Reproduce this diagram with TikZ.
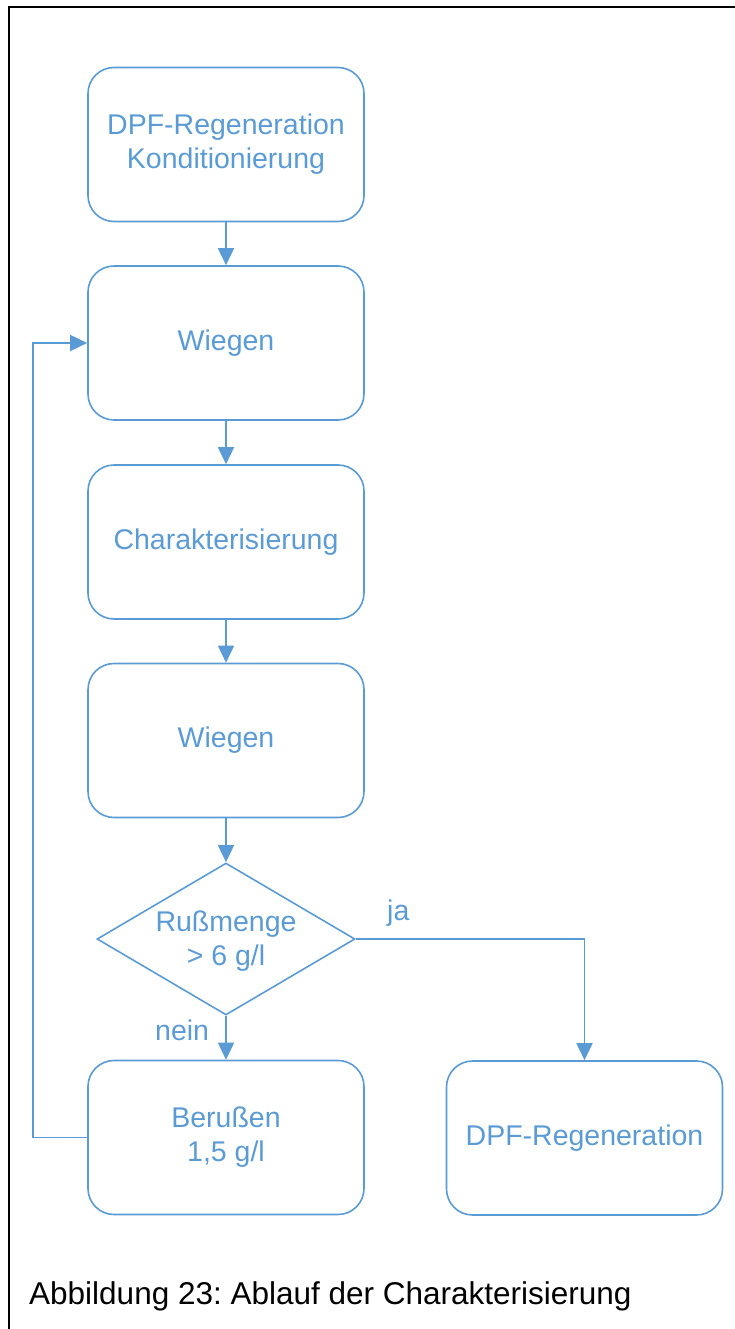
\documentclass[tikz,border=0pt]{standalone}
\usepackage{fontspec}
\setmainfont{Liberation Sans}
\usetikzlibrary{arrows.meta,shapes.geometric}
\definecolor{flowblue}{HTML}{5B9BD5}
\frenchspacing

\begin{document}
\begin{tikzpicture}[x=1pt,y=-1pt,
  stepbox/.style={draw=flowblue, line width=1.6pt, rounded corners=26pt,
    minimum width=276pt, minimum height=154pt, inner sep=0pt, align=center,
    text=flowblue, font=\fontsize{28.5}{34}\selectfont},
  decision/.style={draw=flowblue, line width=1.6pt, diamond,
    minimum width=258pt, minimum height=152pt, inner sep=0pt},
  lbl/.style={text=flowblue, font=\fontsize{28.5}{34}\selectfont,
    align=center, inner sep=0pt},
  flow/.style={draw=flowblue, line width=1.6pt,
    -{Triangle[length=17pt,width=16pt]}}
]
\useasboundingbox (0,0) rectangle (735,1329);

% frame
\draw[line width=2pt] (9,1329) -- (9,7) -- (735,7);

% process steps
\node[stepbox] (cond)  at (226,144.5) {DPF-Regeneration\\Konditionierung};
\node[stepbox] (w1)    at (226,343)   {Wiegen};
\node[stepbox] (char)  at (226,542)   {Charakterisierung};
\node[stepbox] (w2)    at (226,740.5) {Wiegen};
\node[decision] (dec)  at (226,939)   {};
\node[lbl] (dectxt)    at (226,941)   {Rußmenge\\> 6 g/l};
\node[stepbox] (beru)  at (226,1137.5) {Berußen\\1,5 g/l};
\node[stepbox] (regen) at (584.5,1138) {DPF-Regeneration};

% connectors
\draw[flow] (cond) -- (w1);
\draw[flow] (w1) -- (char);
\draw[flow] (char) -- (w2);
\draw[flow] (w2) -- (dec);
\draw[flow] (dec) -- (beru);
\draw[flow] (dec.east) -| (regen.north);
\coordinate (loopx) at (33,0);
\draw[flow] (beru.west) -- (beru.west -| loopx) -- (w1.west -| loopx) -- (w1.west);

% branch labels
\node[lbl, anchor=base west] (ja)   at (387,920)  {ja};
\node[lbl, anchor=base west] (nein) at (155,1040) {nein};

% caption
\node[anchor=base west, inner sep=0pt, font=\fontsize{31.5}{36}\selectfont] (cap)
  at (29,1304) {Abbildung 23: Ablauf der Charakterisierung};
\end{tikzpicture}
\end{document}
